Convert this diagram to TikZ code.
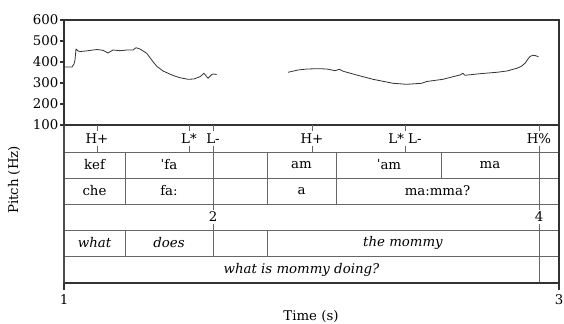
\documentclass[tikz,border=0pt]{standalone}
\usepackage{fontspec}
\setmainfont{DejaVu Serif}

\tikzset{
  axtick/.style={draw=black!80, line width=0.8pt},
  tierline/.style={draw=black!60, line width=0.6pt},
  tierlabel/.style={inner sep=0pt},
  contour/.style={draw=black!80, line width=0.6pt, line join=round},
}

\begin{document}
\begin{tikzpicture}[x=0.75pt, y=-0.75pt, font=\fontsize{10}{12}\selectfont]
    \useasboundingbox (0,0) rectangle (564,324);

    % Tier lines
    \foreach \y in {152,178,204,230,256}
        \draw[tierline] (64,\y) -- (559,\y);
    \draw[axtick] (64,125) -- (559,125);

    % Interval boundaries
    \foreach \x in {125,213,267,336,441.7,539}
        \draw[tierline] (\x,152) -- (\x,178);
    \foreach \x in {125,213,267,336,539}
        \draw[tierline] (\x,178) -- (\x,204);
    \foreach \x in {125,213,267,539}
        \draw[tierline] (\x,230) -- (\x,256);
    \draw[tierline] (539,256) -- (539,283);

    % Point ticks
    \foreach \x in {97,189,213,312,405,539} {
        \draw[tierline] (\x,125) -- (\x,131);
        \draw[tierline] (\x,146) -- (\x,152);
    }
    \foreach \x in {213,539} {
        \draw[tierline] (\x,204) -- (\x,210);
        \draw[tierline] (\x,224) -- (\x,230);
    }

    % Tone tier
    \node[tierlabel] (tone1) at (97,139) {H+};
    \node[tierlabel] (tone2) at (189,139) {L*};
    \node[tierlabel] (tone3) at (213,139) {L-};
    \node[tierlabel] (tone4) at (312,139) {H+};
    \node[tierlabel] (tone5) at (405,139) {L* L-};
    \node[tierlabel] (tone6) at (539,139) {H\%};

    % Syllables
    \node[tierlabel] (syl1) at (94.5,165) {kef};
    \node[tierlabel] (syl2) at (169,165) {ˈfa};
    \node[tierlabel] (syl3) at (301.5,165) {am};
    \node[tierlabel] (syl4) at (389,165) {ˈam};
    \node[tierlabel] (syl5) at (490,165) {ma};

    % Words
    \node[tierlabel] (wrd1) at (94.5,191) {che};
    \node[tierlabel] (wrd2) at (169,191) {fa:};
    \node[tierlabel] (wrd3) at (301.5,191) {a};
    \node[tierlabel] (wrd4) at (437.5,191) {ma:mma?};

    % Break indices
    \node[tierlabel] (brk1) at (213,217) {2};
    \node[tierlabel] (brk2) at (539,217) {4};

    % Gloss
    \node[tierlabel] (gls1) at (94.5,243) {\itshape what};
    \node[tierlabel] (gls2) at (169,243) {\itshape does};
    \node[tierlabel] (gls3) at (403,243) {\itshape the mommy};
    \node[tierlabel] (trans) at (301.5,270) {\itshape what is mommy doing?};

    % Pitch contour
    \draw[contour] plot coordinates {(64,67) (72,67) (74,64) (75,60) (76,49)
        (78,51) (80,51.5) (86,51) (93,50) (97,49.5) (103,50.3) (108,53)
        (113,50) (120,50.7) (127,50) (133,50) (136,47.7) (140,49)
        (146.7,53.3) (153,61.7) (157,66.5) (163,71) (173,75.5) (180,77.7)
        (188,79.3) (194,79) (200,76.7) (204,73.3) (208,78.3) (211.7,74.5)
        (213.3,74) (216.7,74.5)};
    \draw[contour] plot coordinates {(288,72.3) (298,70) (307,69) (318,68.7)
        (327,69) (335,70.7) (339.3,69.3) (343.3,71.3) (356.7,75) (373,79.3)
        (393,83.3) (406.7,84.3) (421.7,83.3) (426.7,81.5) (443,79.3)
        (453,76.7) (460,75) (462.7,73.3) (465,75.3) (480,73.7) (496.7,72.3)
        (507,71) (516.7,68.3) (521,66.5) (525,63.3) (528,59) (530,56.5)
        (532.7,55.3) (535,55.5) (538.5,56.7)};

    % Frame
    \draw[line width=0.9pt, black!80] (64,20) rectangle (559,283);
    \draw[line width=1.6pt, black!70] (64,125) -- (64,283);

    % Pitch axis
    \foreach \hz/\y in {600/20,500/41,400/62,300/83,200/104,100/125} {
        \draw[axtick] (60,\y) -- (64,\y);
        \node[anchor=east, inner sep=1pt] (hz\hz) at (60,\y) {\hz};
    }
    \node[rotate=90] (ylab) at (14,180) {Pitch (Hz)};

    % Time axis
    \draw[axtick] (64,283) -- (64,290);
    \draw[axtick] (559,283) -- (559,290);
    \node (t1) at (64,300) {1};
    \node (t3) at (559,300) {3};
    \node (xlab) at (311,316) {Time (s)};
\end{tikzpicture}
\end{document}
